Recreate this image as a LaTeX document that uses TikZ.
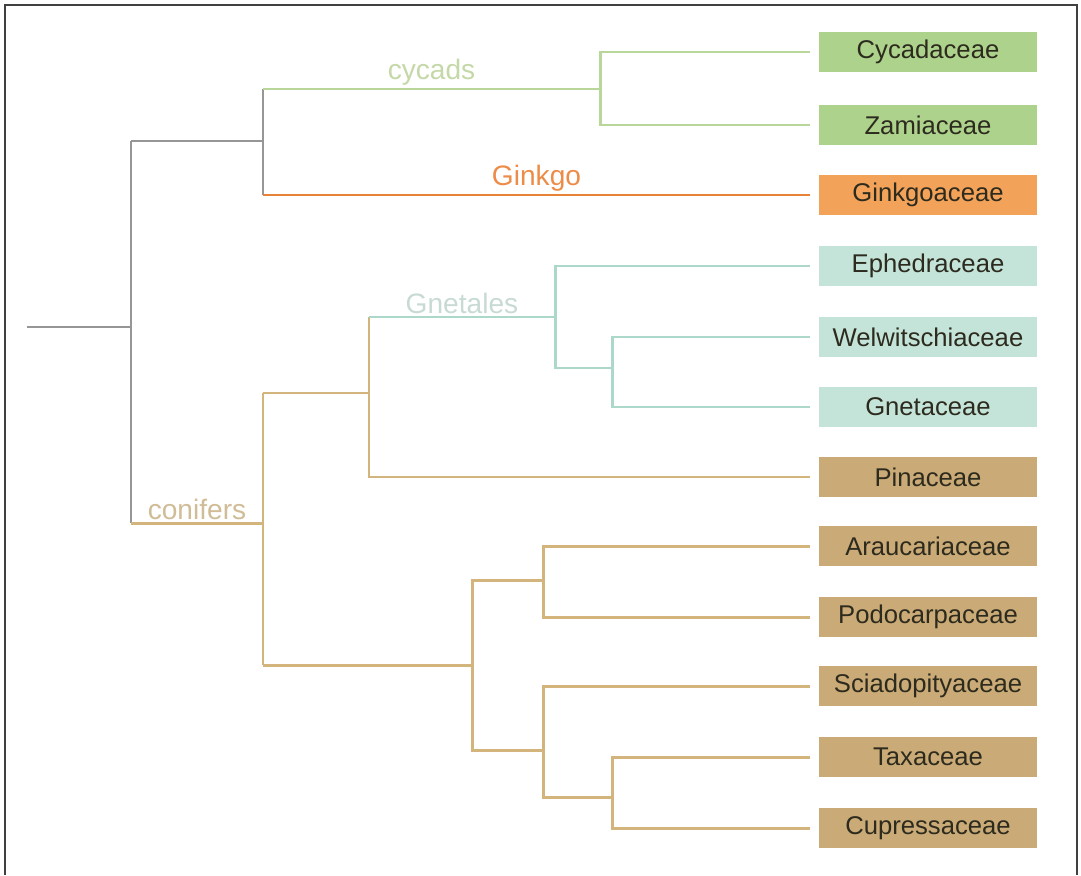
\documentclass[tikz,border=0pt]{standalone}
\usepackage{fontspec}
\setmainfont{Liberation Sans}
\usepackage{xcolor}
\usetikzlibrary{positioning}

\definecolor{basegray}{RGB}{150,150,150}
\definecolor{cycline}{RGB}{185,214,155}
\definecolor{cycbox}{RGB}{172,210,140}
\definecolor{cyctext}{RGB}{196,216,168}
\definecolor{ginline}{RGB}{232,130,55}
\definecolor{ginbox}{RGB}{243,162,90}
\definecolor{gintext}{RGB}{236,140,72}
\definecolor{gneline}{RGB}{172,216,204}
\definecolor{gnebox}{RGB}{196,228,218}
\definecolor{gnetext}{RGB}{200,218,212}
\definecolor{conline}{RGB}{212,180,125}
\definecolor{conbox}{RGB}{202,170,118}
\definecolor{context}{RGB}{208,188,150}
\definecolor{famtext}{RGB}{45,43,30}

\tikzset{
  family/.style={minimum width=4.36cm, minimum height=0.8cm, inner sep=0pt,
    outer xsep=0.18cm, text=famtext, font=\fontsize{14.6}{16}\selectfont},
  branch/.style={line width=1.7pt},
  clade/.style={font=\fontsize{16}{18}\selectfont, inner sep=1pt},
}

\begin{document}
\begin{tikzpicture}[x=0.02cm, y=-0.02cm]

\useasboundingbox (0,0) rectangle (1081,875);

% Frame
\draw[black!75, line width=0.9pt] (5,875) |- (1077,5) -- (1077,875);

% Families
\node[family, fill=cycbox] (cycadaceae) at (928,52) {Cycadaceae};
\node[family, fill=cycbox] (zamiaceae) at (928,125) {Zamiaceae};
\node[family, fill=ginbox] (ginkgoaceae) at (928,195) {Ginkgoaceae};
\node[family, fill=gnebox] (ephedraceae) at (928,266) {Ephedraceae};
\node[family, fill=gnebox] (welwitschiaceae) at (928,337) {Welwitschiaceae};
\node[family, fill=gnebox] (gnetaceae) at (928,407) {Gnetaceae};
\node[family, fill=conbox] (pinaceae) at (928,477) {Pinaceae};
\node[family, fill=conbox] (araucariaceae) at (928,546) {Araucariaceae};
\node[family, fill=conbox] (podocarpaceae) at (928,617) {Podocarpaceae};
\node[family, fill=conbox] (sciadopityaceae) at (928,686) {Sciadopityaceae};
\node[family, fill=conbox] (taxaceae) at (928,757) {Taxaceae};
\node[family, fill=conbox] (cupressaceae) at (928,828) {Cupressaceae};

% Inner nodes of the tree
\coordinate (root) at (27,327);
\coordinate (seed) at (131,327);
\coordinate (cg) at (263,141);
\coordinate (cyc) at (600,89);
\coordinate (con) at (263,523);
\coordinate (gp) at (369,393);
\coordinate (gne) at (555,317);
\coordinate (wg) at (612,368);
\coordinate (cup) at (472,665);
\coordinate (ap) at (543,580);
\coordinate (sct) at (543,750);
\coordinate (tc) at (612,797);

% Seed plants
\draw[branch, basegray] (root) -- (seed);
\draw[branch, basegray] (seed |- cg) -- (seed |- con);
\draw[branch, basegray] (seed |- cg) -- (cg);
\draw[branch, basegray] (cg |- cyc) -- (cg |- ginkgoaceae);

% Cycads and Ginkgo
\draw[branch, cycline] (cg |- cyc) -- (cyc)
  node[clade, midway, above, text=cyctext] {cycads};
\draw[branch, cycline] (cyc) |- (cycadaceae);
\draw[branch, cycline] (cyc) |- (zamiaceae);
\draw[branch, ginline] (cg |- ginkgoaceae) -- (ginkgoaceae)
  node[clade, midway, above, text=gintext] {Ginkgo};

% Conifers
\draw[branch, conline] (seed |- con) -- (con)
  node[clade, midway, above, text=context] {conifers};
\draw[branch, conline] (con |- gp) -- (con |- cup);
\draw[branch, conline] (con |- gp) -- (gp);
\draw[branch, conline] (gp |- gne) |- (pinaceae);

% Gnetales
\draw[branch, gneline] (gp |- gne) -- (gne)
  node[clade, midway, above, text=gnetext] {Gnetales};
\draw[branch, gneline] (gne) |- (ephedraceae);
\draw[branch, gneline] (gne) |- (wg);
\draw[branch, gneline] (wg) |- (welwitschiaceae);
\draw[branch, gneline] (wg) |- (gnetaceae);

% Cupressophytes
\draw[branch, conline] (con |- cup) -- (cup);
\draw[branch, conline] (cup) |- (ap);
\draw[branch, conline] (cup) |- (sct);
\draw[branch, conline] (ap) |- (araucariaceae);
\draw[branch, conline] (ap) |- (podocarpaceae);
\draw[branch, conline] (sct) |- (sciadopityaceae);
\draw[branch, conline] (sct) |- (tc);
\draw[branch, conline] (tc) |- (taxaceae);
\draw[branch, conline] (tc) |- (cupressaceae);

\end{tikzpicture}
\end{document}
